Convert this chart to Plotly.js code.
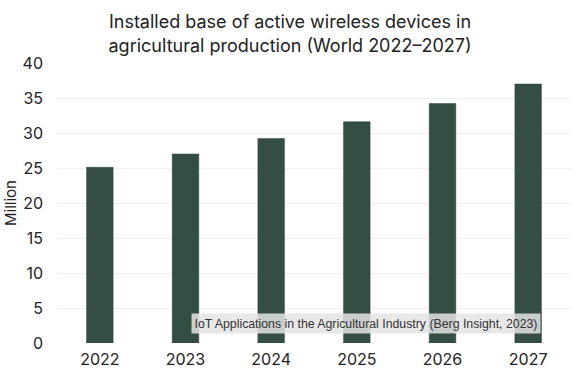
<!DOCTYPE html>
<html>
<head>
<meta charset="utf-8">
<script src="https://cdn.plot.ly/plotly-3.0.1.min.js"></script>
<style>html,body{margin:0;padding:0;background:#fff}#chart{width:580px;height:377px}</style>
</head>
<body>
<div id="chart"></div>
<script>
const years = ["2022", "2023", "2024", "2025", "2026", "2027"];
const devices = [25.1, 27.0, 29.2, 31.6, 34.2, 37.0];
const yTicks = [0, 5, 10, 15, 20, 25, 30, 35, 40];

const trace = {
  type: "bar",
  x: years,
  y: devices,
  marker: {color: "#344e43", line: {color: "#2c4238", width: 0.5}},
  hoverinfo: "x+y"
};

const layout = {
  width: 580,
  height: 377,
  paper_bgcolor: "#ffffff",
  plot_bgcolor: "#ffffff",
  margin: {l: 57, r: 9, t: 63, b: 34},
  bargap: 0.69,
  showlegend: false,
  font: {family: "Inter, 'Noto Sans', sans-serif", color: "#222222"},
  title: {
    text: "Installed base of active wireless devices in<br>agricultural production (World 2022–2027)",
    font: {family: "Inter, sans-serif", size: 18, color: "#222222"},
    x: 0.5, xanchor: "center",
    yref: "container", y: 0.925, yanchor: "middle"
  },
  xaxis: {
    type: "category",
    tickfont: {size: 16, color: "#222222"},
    showgrid: false,
    zeroline: false,
    showline: false,
    ticks: "",
    ticklabelstandoff: 5
  },
  yaxis: {
    range: [0, 40],
    tickvals: yTicks,
    tickfont: {size: 16, color: "#222222"},
    showgrid: true,
    gridcolor: "#efefef",
    gridwidth: 1,
    zeroline: false,
    ticks: "",
    ticklabelstandoff: 13,
    title: {text: "Million", font: {size: 15, color: "#222222"}, standoff: 2}
  },
  annotations: [{
    text: "IoT Applications in the Agricultural Industry (Berg Insight, 2023)",
    xref: "paper", yref: "paper",
    x: 0.942, y: 0.069,
    xanchor: "right", yanchor: "middle",
    showarrow: false,
    font: {family: "'Liberation Sans', Arial, sans-serif", size: 12.3, color: "#333333"},
    bgcolor: "rgba(228,228,228,0.85)",
    borderpad: 2.5
  }]
};

Plotly.newPlot("chart", [trace], layout, {displayModeBar: false, staticPlot: true});
</script>
</body>
</html>
